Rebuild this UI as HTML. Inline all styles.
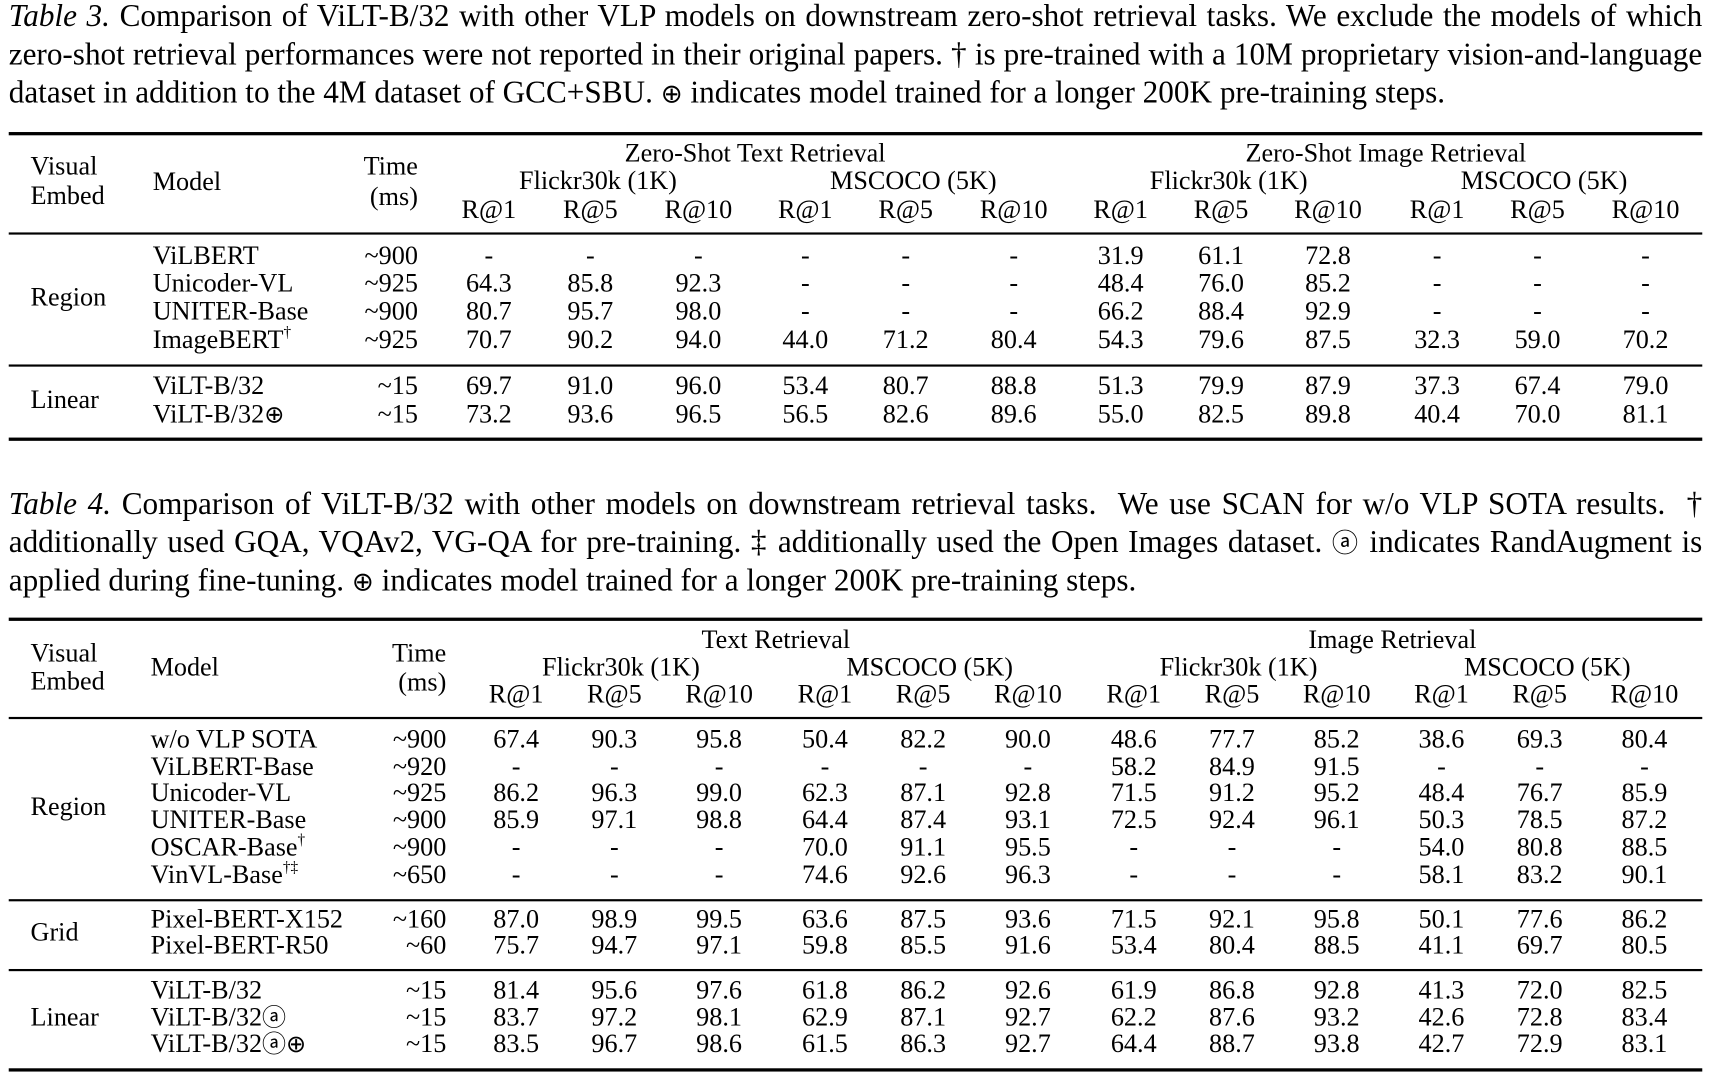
<!DOCTYPE html>
<html><head><meta charset="utf-8"><style>
html,body{margin:0;padding:0;background:#fff;}
body{width:1711px;height:1075px;overflow:hidden;position:relative;}
#w{position:absolute;left:0;top:0;width:1568px;height:985px;transform:scale(1.0912);transform-origin:0 0;font-family:"Liberation Serif","DejaVu Serif",serif;color:#000;}
.cl{position:absolute;left:8px;width:1552px;font-size:28.6px;line-height:35px;white-space:nowrap;text-align:justify;text-align-last:justify;}
.cl.last{text-align-last:left;}
.cl i{font-style:italic;}
.rule{position:absolute;left:8px;width:1552px;background:#000;}
.thick{height:2.5px;}.thin{height:1.5px;}
.t{position:absolute;font-size:24px;line-height:26px;white-space:nowrap;}
.r{position:absolute;left:0;width:1568px;height:26px;font-size:24px;line-height:26px;}
.r span{position:absolute;top:0;white-space:nowrap;}
.r span.m{left:140px;}
.r span.tm{left:283px;width:100px;text-align:right;}
.r span.v{width:100px;text-align:center;}
.r span .g{position:static;}
.t4 .r span.m{left:138px;}
.t4 .r span.tm{left:309px;}
.c{transform:translateX(-50%);}
sup{font-size:14px;vertical-align:top;line-height:14px;}
.g{font-family:"DejaVu Sans",sans-serif;font-size:22px;}
.cl .g{font-size:24px;}
</style></head><body><div id="w">

<div class="cl" style="top:-2px"><i>Table 3.</i> Comparison of ViLT-B/32 with other VLP models on downstream zero-shot retrieval tasks. We exclude the models of which</div>
<div class="cl" style="top:33px">zero-shot retrieval performances were not reported in their original papers. † is pre-trained with a 10M proprietary vision-and-language</div>
<div class="cl last" style="top:68px">dataset in addition to the 4M dataset of GCC+SBU. <span class="g">⊕</span> indicates model trained for a longer 200K pre-training steps.</div>

<div class="rule thick" style="top:121px"></div>
<div class="t" style="left:28px;top:140px">Visual</div>
<div class="t" style="left:28px;top:167px">Embed</div>
<div class="t" style="left:140px;top:154px">Model</div>
<div class="t" style="left:283px;width:100px;text-align:right;top:140px">Time</div>
<div class="t" style="left:283px;width:100px;text-align:right;top:168px">(ms)</div>
<div class="t c" style="left:692px;top:128px">Zero-Shot Text Retrieval</div>
<div class="t c" style="left:548px;top:153px">Flickr30k (1K)</div>
<div class="t c" style="left:837px;top:153px">MSCOCO (5K)</div>
<div class="t c" style="left:1270px;top:128px">Zero-Shot Image Retrieval</div>
<div class="t c" style="left:1126px;top:153px">Flickr30k (1K)</div>
<div class="t c" style="left:1415px;top:153px">MSCOCO (5K)</div>
<div class="r" style="top:180px"><span class="v" style="left:398px">R@1</span><span class="v" style="left:491px">R@5</span><span class="v" style="left:590px">R@10</span><span class="v" style="left:688px">R@1</span><span class="v" style="left:780px">R@5</span><span class="v" style="left:879px">R@10</span><span class="v" style="left:977px">R@1</span><span class="v" style="left:1069px">R@5</span><span class="v" style="left:1167px">R@10</span><span class="v" style="left:1267px">R@1</span><span class="v" style="left:1359px">R@5</span><span class="v" style="left:1458px">R@10</span></div>
<div class="rule thin" style="top:213px"></div>
<div class="t" style="left:28px;top:260px">Region</div>
<div class="r" style="top:222px"><span class="m">ViLBERT</span><span class="tm">~900</span><span class="v" style="left:398px">-</span><span class="v" style="left:491px">-</span><span class="v" style="left:590px">-</span><span class="v" style="left:688px">-</span><span class="v" style="left:780px">-</span><span class="v" style="left:879px">-</span><span class="v" style="left:977px">31.9</span><span class="v" style="left:1069px">61.1</span><span class="v" style="left:1167px">72.8</span><span class="v" style="left:1267px">-</span><span class="v" style="left:1359px">-</span><span class="v" style="left:1458px">-</span></div>
<div class="r" style="top:247px"><span class="m">Unicoder-VL</span><span class="tm">~925</span><span class="v" style="left:398px">64.3</span><span class="v" style="left:491px">85.8</span><span class="v" style="left:590px">92.3</span><span class="v" style="left:688px">-</span><span class="v" style="left:780px">-</span><span class="v" style="left:879px">-</span><span class="v" style="left:977px">48.4</span><span class="v" style="left:1069px">76.0</span><span class="v" style="left:1167px">85.2</span><span class="v" style="left:1267px">-</span><span class="v" style="left:1359px">-</span><span class="v" style="left:1458px">-</span></div>
<div class="r" style="top:273px"><span class="m">UNITER-Base</span><span class="tm">~900</span><span class="v" style="left:398px">80.7</span><span class="v" style="left:491px">95.7</span><span class="v" style="left:590px">98.0</span><span class="v" style="left:688px">-</span><span class="v" style="left:780px">-</span><span class="v" style="left:879px">-</span><span class="v" style="left:977px">66.2</span><span class="v" style="left:1069px">88.4</span><span class="v" style="left:1167px">92.9</span><span class="v" style="left:1267px">-</span><span class="v" style="left:1359px">-</span><span class="v" style="left:1458px">-</span></div>
<div class="r" style="top:299px"><span class="m">ImageBERT<sup>†</sup></span><span class="tm">~925</span><span class="v" style="left:398px">70.7</span><span class="v" style="left:491px">90.2</span><span class="v" style="left:590px">94.0</span><span class="v" style="left:688px">44.0</span><span class="v" style="left:780px">71.2</span><span class="v" style="left:879px">80.4</span><span class="v" style="left:977px">54.3</span><span class="v" style="left:1069px">79.6</span><span class="v" style="left:1167px">87.5</span><span class="v" style="left:1267px">32.3</span><span class="v" style="left:1359px">59.0</span><span class="v" style="left:1458px">70.2</span></div>
<div class="rule thin" style="top:334px"></div>
<div class="t" style="left:28px;top:354px">Linear</div>
<div class="r" style="top:341px"><span class="m">ViLT-B/32</span><span class="tm">~15</span><span class="v" style="left:398px">69.7</span><span class="v" style="left:491px">91.0</span><span class="v" style="left:590px">96.0</span><span class="v" style="left:688px">53.4</span><span class="v" style="left:780px">80.7</span><span class="v" style="left:879px">88.8</span><span class="v" style="left:977px">51.3</span><span class="v" style="left:1069px">79.9</span><span class="v" style="left:1167px">87.9</span><span class="v" style="left:1267px">37.3</span><span class="v" style="left:1359px">67.4</span><span class="v" style="left:1458px">79.0</span></div>
<div class="r" style="top:367px"><span class="m">ViLT-B/32<span class="g">⊕</span></span><span class="tm">~15</span><span class="v" style="left:398px">73.2</span><span class="v" style="left:491px">93.6</span><span class="v" style="left:590px">96.5</span><span class="v" style="left:688px">56.5</span><span class="v" style="left:780px">82.6</span><span class="v" style="left:879px">89.6</span><span class="v" style="left:977px">55.0</span><span class="v" style="left:1069px">82.5</span><span class="v" style="left:1167px">89.8</span><span class="v" style="left:1267px">40.4</span><span class="v" style="left:1359px">70.0</span><span class="v" style="left:1458px">81.1</span></div>
<div class="rule thick" style="top:401px"></div>

<div class="cl" style="top:445px"><i>Table 4.</i> Comparison of ViLT-B/32 with other models on downstream retrieval tasks. &nbsp;We use SCAN for w/o VLP SOTA results. &nbsp;†</div>
<div class="cl" style="top:480px">additionally used GQA, VQAv2, VG-QA for pre-training. ‡ additionally used the Open Images dataset. <span class="g">ⓐ</span> indicates RandAugment is</div>
<div class="cl last" style="top:515px">applied during fine-tuning. <span class="g">⊕</span> indicates model trained for a longer 200K pre-training steps.</div>

<div class="t4">
<div class="rule thick" style="top:566px"></div>
<div class="t" style="left:28px;top:586px">Visual</div>
<div class="t" style="left:28px;top:612px">Embed</div>
<div class="t" style="left:138px;top:599px">Model</div>
<div class="t" style="left:309px;width:100px;text-align:right;top:586px">Time</div>
<div class="t" style="left:309px;width:100px;text-align:right;top:613px">(ms)</div>
<div class="t c" style="left:711px;top:574px">Text Retrieval</div>
<div class="t c" style="left:569px;top:599px">Flickr30k (1K)</div>
<div class="t c" style="left:852px;top:599px">MSCOCO (5K)</div>
<div class="t c" style="left:1276px;top:574px">Image Retrieval</div>
<div class="t c" style="left:1135px;top:599px">Flickr30k (1K)</div>
<div class="t c" style="left:1418px;top:599px">MSCOCO (5K)</div>
<div class="r" style="top:624px"><span class="v" style="left:423px">R@1</span><span class="v" style="left:513px">R@5</span><span class="v" style="left:609px">R@10</span><span class="v" style="left:706px">R@1</span><span class="v" style="left:796px">R@5</span><span class="v" style="left:892px">R@10</span><span class="v" style="left:989px">R@1</span><span class="v" style="left:1079px">R@5</span><span class="v" style="left:1175px">R@10</span><span class="v" style="left:1271px">R@1</span><span class="v" style="left:1361px">R@5</span><span class="v" style="left:1457px">R@10</span></div>
<div class="rule thin" style="top:657px"></div>
<div class="t" style="left:28px;top:727px">Region</div>
<div class="r" style="top:665px"><span class="m">w/o VLP SOTA</span><span class="tm">~900</span><span class="v" style="left:423px">67.4</span><span class="v" style="left:513px">90.3</span><span class="v" style="left:609px">95.8</span><span class="v" style="left:706px">50.4</span><span class="v" style="left:796px">82.2</span><span class="v" style="left:892px">90.0</span><span class="v" style="left:989px">48.6</span><span class="v" style="left:1079px">77.7</span><span class="v" style="left:1175px">85.2</span><span class="v" style="left:1271px">38.6</span><span class="v" style="left:1361px">69.3</span><span class="v" style="left:1457px">80.4</span></div>
<div class="r" style="top:690px"><span class="m">ViLBERT-Base</span><span class="tm">~920</span><span class="v" style="left:423px">-</span><span class="v" style="left:513px">-</span><span class="v" style="left:609px">-</span><span class="v" style="left:706px">-</span><span class="v" style="left:796px">-</span><span class="v" style="left:892px">-</span><span class="v" style="left:989px">58.2</span><span class="v" style="left:1079px">84.9</span><span class="v" style="left:1175px">91.5</span><span class="v" style="left:1271px">-</span><span class="v" style="left:1361px">-</span><span class="v" style="left:1457px">-</span></div>
<div class="r" style="top:714px"><span class="m">Unicoder-VL</span><span class="tm">~925</span><span class="v" style="left:423px">86.2</span><span class="v" style="left:513px">96.3</span><span class="v" style="left:609px">99.0</span><span class="v" style="left:706px">62.3</span><span class="v" style="left:796px">87.1</span><span class="v" style="left:892px">92.8</span><span class="v" style="left:989px">71.5</span><span class="v" style="left:1079px">91.2</span><span class="v" style="left:1175px">95.2</span><span class="v" style="left:1271px">48.4</span><span class="v" style="left:1361px">76.7</span><span class="v" style="left:1457px">85.9</span></div>
<div class="r" style="top:739px"><span class="m">UNITER-Base</span><span class="tm">~900</span><span class="v" style="left:423px">85.9</span><span class="v" style="left:513px">97.1</span><span class="v" style="left:609px">98.8</span><span class="v" style="left:706px">64.4</span><span class="v" style="left:796px">87.4</span><span class="v" style="left:892px">93.1</span><span class="v" style="left:989px">72.5</span><span class="v" style="left:1079px">92.4</span><span class="v" style="left:1175px">96.1</span><span class="v" style="left:1271px">50.3</span><span class="v" style="left:1361px">78.5</span><span class="v" style="left:1457px">87.2</span></div>
<div class="r" style="top:764px"><span class="m">OSCAR-Base<sup>†</sup></span><span class="tm">~900</span><span class="v" style="left:423px">-</span><span class="v" style="left:513px">-</span><span class="v" style="left:609px">-</span><span class="v" style="left:706px">70.0</span><span class="v" style="left:796px">91.1</span><span class="v" style="left:892px">95.5</span><span class="v" style="left:989px">-</span><span class="v" style="left:1079px">-</span><span class="v" style="left:1175px">-</span><span class="v" style="left:1271px">54.0</span><span class="v" style="left:1361px">80.8</span><span class="v" style="left:1457px">88.5</span></div>
<div class="r" style="top:789px"><span class="m">VinVL-Base<sup>†‡</sup></span><span class="tm">~650</span><span class="v" style="left:423px">-</span><span class="v" style="left:513px">-</span><span class="v" style="left:609px">-</span><span class="v" style="left:706px">74.6</span><span class="v" style="left:796px">92.6</span><span class="v" style="left:892px">96.3</span><span class="v" style="left:989px">-</span><span class="v" style="left:1079px">-</span><span class="v" style="left:1175px">-</span><span class="v" style="left:1271px">58.1</span><span class="v" style="left:1361px">83.2</span><span class="v" style="left:1457px">90.1</span></div>
<div class="rule thin" style="top:824px"></div>
<div class="t" style="left:28px;top:842px">Grid</div>
<div class="r" style="top:830px"><span class="m">Pixel-BERT-X152</span><span class="tm">~160</span><span class="v" style="left:423px">87.0</span><span class="v" style="left:513px">98.9</span><span class="v" style="left:609px">99.5</span><span class="v" style="left:706px">63.6</span><span class="v" style="left:796px">87.5</span><span class="v" style="left:892px">93.6</span><span class="v" style="left:989px">71.5</span><span class="v" style="left:1079px">92.1</span><span class="v" style="left:1175px">95.8</span><span class="v" style="left:1271px">50.1</span><span class="v" style="left:1361px">77.6</span><span class="v" style="left:1457px">86.2</span></div>
<div class="r" style="top:854px"><span class="m">Pixel-BERT-R50</span><span class="tm">~60</span><span class="v" style="left:423px">75.7</span><span class="v" style="left:513px">94.7</span><span class="v" style="left:609px">97.1</span><span class="v" style="left:706px">59.8</span><span class="v" style="left:796px">85.5</span><span class="v" style="left:892px">91.6</span><span class="v" style="left:989px">53.4</span><span class="v" style="left:1079px">80.4</span><span class="v" style="left:1175px">88.5</span><span class="v" style="left:1271px">41.1</span><span class="v" style="left:1361px">69.7</span><span class="v" style="left:1457px">80.5</span></div>
<div class="rule thin" style="top:888px"></div>
<div class="t" style="left:28px;top:920px">Linear</div>
<div class="r" style="top:895px"><span class="m">ViLT-B/32</span><span class="tm">~15</span><span class="v" style="left:423px">81.4</span><span class="v" style="left:513px">95.6</span><span class="v" style="left:609px">97.6</span><span class="v" style="left:706px">61.8</span><span class="v" style="left:796px">86.2</span><span class="v" style="left:892px">92.6</span><span class="v" style="left:989px">61.9</span><span class="v" style="left:1079px">86.8</span><span class="v" style="left:1175px">92.8</span><span class="v" style="left:1271px">41.3</span><span class="v" style="left:1361px">72.0</span><span class="v" style="left:1457px">82.5</span></div>
<div class="r" style="top:920px"><span class="m">ViLT-B/32<span class="g">ⓐ</span></span><span class="tm">~15</span><span class="v" style="left:423px">83.7</span><span class="v" style="left:513px">97.2</span><span class="v" style="left:609px">98.1</span><span class="v" style="left:706px">62.9</span><span class="v" style="left:796px">87.1</span><span class="v" style="left:892px">92.7</span><span class="v" style="left:989px">62.2</span><span class="v" style="left:1079px">87.6</span><span class="v" style="left:1175px">93.2</span><span class="v" style="left:1271px">42.6</span><span class="v" style="left:1361px">72.8</span><span class="v" style="left:1457px">83.4</span></div>
<div class="r" style="top:944px"><span class="m">ViLT-B/32<span class="g">ⓐ⊕</span></span><span class="tm">~15</span><span class="v" style="left:423px">83.5</span><span class="v" style="left:513px">96.7</span><span class="v" style="left:609px">98.6</span><span class="v" style="left:706px">61.5</span><span class="v" style="left:796px">86.3</span><span class="v" style="left:892px">92.7</span><span class="v" style="left:989px">64.4</span><span class="v" style="left:1079px">88.7</span><span class="v" style="left:1175px">93.8</span><span class="v" style="left:1271px">42.7</span><span class="v" style="left:1361px">72.9</span><span class="v" style="left:1457px">83.1</span></div>
<div class="rule thick" style="top:979px"></div>
</div>
</div></body></html>
